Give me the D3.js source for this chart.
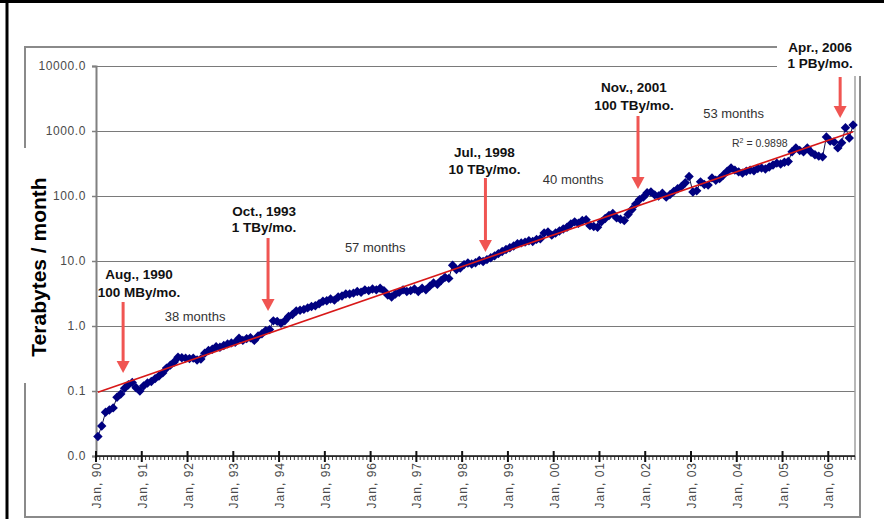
<!DOCTYPE html>
<html>
<head>
<meta charset="utf-8">
<script src="https://cdn.jsdelivr.net/npm/d3@7"></script>
<style>
  body { margin: 0; background: #fff; }
  svg { display: block; }
</style>
</head>
<body>
<svg id="chart" width="884" height="519"></svg>
<script>
// Monthly traffic in terabytes, January 1990 onward
const monthlyTB = [
  0.020, 0.029, 0.047, 0.051, 0.055, 0.080, 0.090, 0.110, 0.125, 0.135,
  0.112, 0.100, 0.120, 0.133, 0.140, 0.155, 0.170, 0.190, 0.225, 0.250,
  0.280, 0.330, 0.325, 0.320, 0.315, 0.320, 0.300, 0.310, 0.380, 0.420,
  0.440, 0.480, 0.470, 0.500, 0.530, 0.550, 0.560, 0.650, 0.600, 0.640,
  0.660, 0.600, 0.700, 0.760, 0.850, 0.880, 1.200, 1.180, 1.100, 1.200,
  1.40, 1.50, 1.70, 1.75, 1.80, 1.90, 2.00, 2.05, 2.20, 2.40,
  2.45, 2.60, 2.50, 2.80, 2.90, 3.10, 3.10, 3.20, 3.40, 3.30,
  3.60, 3.50, 3.70, 3.60, 3.80, 3.50, 3.00, 2.80, 3.10, 3.30,
  3.60, 3.40, 3.50, 3.70, 3.40, 3.80, 3.60, 4.10, 4.60, 4.40,
  5.00, 5.60, 5.40, 8.60, 7.40, 7.80, 8.80, 9.30, 9.00, 9.40,
  10.2, 9.8, 10.5, 11.2, 12.0, 13.0, 14.0, 15.0, 16.0, 17.0,
  18.5, 19.0, 19.5, 20.5, 20.0, 21.5, 22.0, 27.0, 28.0, 25.0,
  27, 29, 31, 33, 37, 40, 38, 42, 43, 35,
  34, 33, 40, 45, 50, 54, 46, 44, 42, 52,
  62, 75, 88, 96, 112, 115, 104, 100, 110, 96,
  105, 118, 129, 140, 160, 200, 115, 120, 165, 150,
  147, 190, 175, 185, 210, 240, 270, 250, 235, 225,
  240, 250, 245, 265, 270, 260, 280, 300, 320, 310,
  330, 340, 480, 550, 500, 480, 550, 470, 430, 410,
  400, 810, 700, 680, 550, 660, 1120, 780, 1240
];

const yTickValues = [0.01, 0.1, 1, 10, 100, 1000, 10000];
const yTickLabels = ["0.0", "0.1", "1.0", "10.0", "100.0", "1000.0", "10000.0"];
const xTickLabels = ["Jan, 90", "Jan, 91", "Jan, 92", "Jan, 93", "Jan, 94", "Jan, 95",
  "Jan, 96", "Jan, 97", "Jan, 98", "Jan, 99", "Jan, 00", "Jan, 01", "Jan, 02",
  "Jan, 03", "Jan, 04", "Jan, 05", "Jan, 06"];

// Milestones: month index, date, rate reached (TB/month)
const milestoneMonths = [7, 45, 102, 142, 195];
const milestoneDates = ["Aug., 1990", "Oct., 1993", "Jul., 1998", "Nov., 2001", "Apr., 2006"];
const milestoneRates = ["100 MBy/mo.", "1 TBy/mo.", "10 TBy/mo.", "100 TBy/mo.", "1 PBy/mo."];
const periodLabels = ["38 months", "57 months", "40 months", "53 months"];
const rSquaredText = "0.9898";
const axisTitle = "Terabytes / month";

// ---------- layout ----------
const plot = { left: 96, right: 855, top: 66, bottom: 456 };
const FONT = "Arial, 'Liberation Sans', sans-serif";
// callout text offsets and arrow extents (pixels)
const calloutLayout = [
  { dx: 16, base1: 279, base2: 297, arrowTop: 302, arrowTip: 373 },
  { dx: -4, base1: 216, base2: 232, arrowTop: 238, arrowTip: 311 },
  { dx: -1, base1: 157, base2: 174, arrowTop: 178, arrowTip: 252 },
  { dx: -4, base1: 92,  base2: 110, arrowTop: 116, arrowTip: 189 },
  { dx: -20, base1: 52, base2: 68,  arrowTop: 77,  arrowTip: 118 }
];
const periodLayout = [
  { dx: -2, y: 321 }, { dx: -3, y: 252 }, { dx: 10, y: 184 }, { dx: -7, y: 118 }
];

const svg = d3.select("#chart");

const x = d3.scaleBand()
  .domain(d3.range(monthlyTB.length))
  .range([plot.left, plot.right])
  .paddingInner(0).paddingOuter(0);
const cx = i => x(i) + x.bandwidth() / 2;

const y = d3.scaleLog()
  .domain([0.01, 10000])
  .range([plot.bottom, plot.top]);

// page border and chart frame
svg.append("line").attr("x1", 7).attr("x2", 7).attr("y1", 0).attr("y2", 519)
  .attr("stroke", "#000").attr("stroke-width", 3);
svg.append("line").attr("x1", 0).attr("x2", 884).attr("y1", 1.5).attr("y2", 1.5)
  .attr("stroke", "#000").attr("stroke-width", 3);
svg.append("rect").attr("x", 25).attr("y", 47).attr("width", 835).attr("height", 470)
  .attr("fill", "none").attr("stroke", "#8a8a8a").attr("stroke-width", 2);

// y axis title with the white backing that interrupts the frame
svg.append("rect").attr("x", 18).attr("y", 148).attr("width", 16).attr("height", 235).attr("fill", "#fff");
svg.append("text")
  .attr("transform", `translate(46,${(plot.top + plot.bottom) / 2 + 6}) rotate(-90)`)
  .attr("text-anchor", "middle")
  .attr("font-family", FONT).attr("font-size", 21).attr("font-weight", "bold").attr("fill", "#000")
  .text(axisTitle);

// horizontal gridlines
svg.append("g").selectAll("line").data(yTickValues).join("line")
  .attr("x1", plot.left).attr("x2", plot.right)
  .attr("y1", d => Math.round(y(d)) + 0.5).attr("y2", d => Math.round(y(d)) + 0.5)
  .attr("stroke", "#7a7a7a").attr("stroke-width", 1.2);

// plot area right edge
svg.append("line").attr("x1", plot.right).attr("x2", plot.right)
  .attr("y1", plot.top).attr("y2", plot.bottom)
  .attr("stroke", "#a0a0a0").attr("stroke-width", 1.5);

// y axis
const yAxis = d3.axisLeft(y).tickValues(yTickValues)
  .tickFormat((d, i) => yTickLabels[i]).tickSize(4).tickPadding(7);
const gy = svg.append("g").attr("transform", `translate(${plot.left},0)`).call(yAxis);
gy.select(".domain").attr("stroke", "#808080").attr("stroke-width", 2);
gy.selectAll(".tick line").attr("stroke", "#808080").attr("stroke-width", 1.5);
gy.selectAll(".tick text")
  .attr("font-family", FONT).attr("font-size", 12).attr("fill", "#4a4a4a")
  .attr("letter-spacing", "0.6px").attr("dx", 1);

// x axis: minor monthly ticks, major yearly ticks
const gx = svg.append("g");
gx.append("line").attr("x1", plot.left).attr("x2", plot.right)
  .attr("y1", plot.bottom).attr("y2", plot.bottom)
  .attr("stroke", "#111").attr("stroke-width", 1.5);
gx.selectAll("line.minor").data(d3.range(monthlyTB.length + 1)).join("line")
  .attr("class", "minor")
  .attr("x1", i => i < monthlyTB.length ? x(i) : plot.right)
  .attr("x2", i => i < monthlyTB.length ? x(i) : plot.right)
  .attr("y1", plot.bottom).attr("y2", plot.bottom + 4)
  .attr("stroke", "#222").attr("stroke-width", 0.9);
gx.selectAll("line.major").data(xTickLabels).join("line")
  .attr("class", "major")
  .attr("x1", (d, k) => x(k * 12)).attr("x2", (d, k) => x(k * 12))
  .attr("y1", plot.bottom - 5).attr("y2", plot.bottom + 6)
  .attr("stroke", "#111").attr("stroke-width", 2);
gx.selectAll("text").data(xTickLabels).join("text")
  .attr("transform", (d, k) => `translate(${x(k * 12) + 5},${plot.bottom + 6}) rotate(-90)`)
  .attr("text-anchor", "end")
  .attr("font-family", FONT).attr("font-size", 12).attr("fill", "#4a4a4a")
  .attr("letter-spacing", "1px")
  .text(d => d);

// data line and diamond markers
const line = d3.line().x((d, i) => cx(i)).y(d => y(d));
svg.append("path").datum(monthlyTB).attr("d", line)
  .attr("fill", "none").attr("stroke", "#10104a").attr("stroke-width", 1);
svg.append("g").selectAll("path").data(monthlyTB).join("path")
  .attr("d", "M0,-4.7L4.7,0L0,4.7L-4.7,0Z")
  .attr("transform", (d, i) => `translate(${cx(i)},${y(d)})`)
  .attr("fill", "#000080");

// exponential trendline: least squares fit of ln(value) against month
const n = monthlyTB.length;
const xs = d3.range(n), ls = monthlyTB.map(Math.log);
const mx = d3.mean(xs), ml = d3.mean(ls);
const slope = d3.sum(xs, (v, i) => (v - mx) * (ls[i] - ml)) / d3.sum(xs, v => (v - mx) * (v - mx));
const icpt = ml - slope * mx;
const trend = [0, n - 1].map(i => [i, Math.exp(icpt + slope * i)]);
svg.append("path").datum(trend)
  .attr("d", d3.line().x(d => cx(d[0])).y(d => y(d[1])))
  .attr("stroke", "#d81818").attr("stroke-width", 1.6).attr("fill", "none");

// R squared label
const rs = svg.append("text").attr("x", 732).attr("y", 147)
  .attr("font-family", FONT).attr("font-size", 10.5).attr("fill", "#333");
rs.append("tspan").text("R");
rs.append("tspan").attr("font-size", 7).attr("dy", -4).text("2");
rs.append("tspan").attr("dy", 4).text(" = " + rSquaredText);

// period labels between milestones
periodLabels.forEach((t, k) => {
  const mid = (cx(milestoneMonths[k]) + cx(milestoneMonths[k + 1])) / 2;
  svg.append("text").attr("x", mid + periodLayout[k].dx).attr("y", periodLayout[k].y)
    .attr("text-anchor", "middle")
    .attr("font-family", FONT).attr("font-size", 13).attr("fill", "#333")
    .text(t);
});

// milestone callouts with arrows
const ARROW = "#f05552";
milestoneMonths.forEach((m, k) => {
  const L = calloutLayout[k];
  const ax = cx(m) - 1.5;
  const tx = ax + L.dx;
  if (k === milestoneMonths.length - 1) {
    svg.append("rect").attr("x", 777).attr("y", 30).attr("width", 100).attr("height", 46).attr("fill", "#fff");
  }
  const t = svg.append("text").attr("text-anchor", "middle")
    .attr("font-family", FONT).attr("font-size", 13.5).attr("font-weight", "bold").attr("fill", "#111");
  t.append("tspan").attr("x", tx).attr("y", L.base1).text(milestoneDates[k]);
  t.append("tspan").attr("x", tx).attr("y", L.base2).text(milestoneRates[k]);
  svg.append("line").attr("x1", ax).attr("x2", ax)
    .attr("y1", L.arrowTop).attr("y2", L.arrowTip - 11)
    .attr("stroke", ARROW).attr("stroke-width", 3);
  svg.append("path")
    .attr("d", `M${ax - 6.5},${L.arrowTip - 12}L${ax + 6.5},${L.arrowTip - 12}L${ax},${L.arrowTip}Z`)
    .attr("fill", ARROW);
});
</script>
</body>
</html>
